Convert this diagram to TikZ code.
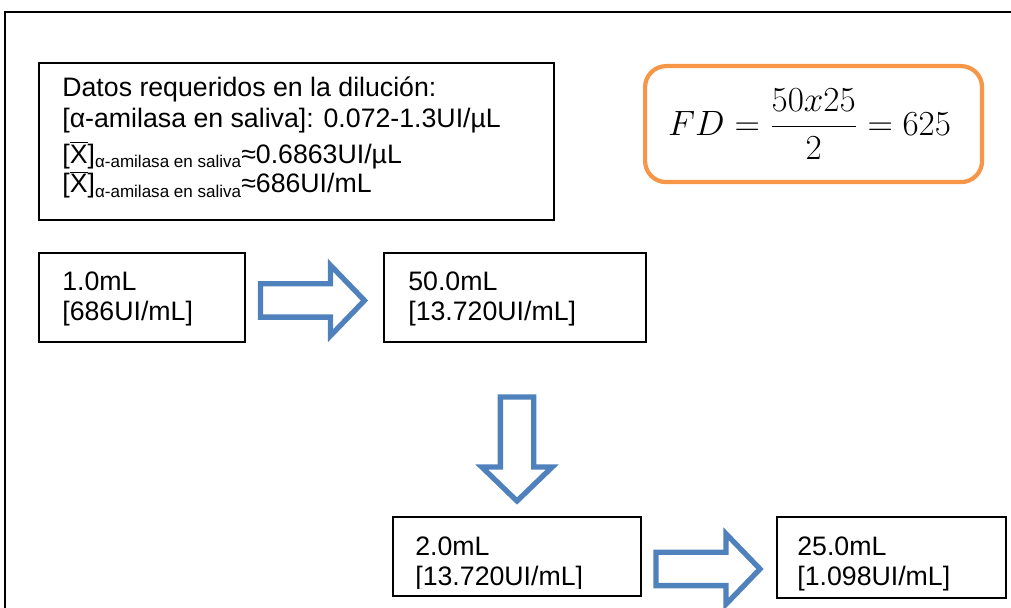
\documentclass[tikz,border=0pt]{standalone}
\usepackage{fontspec}
\setmainfont{Liberation Sans}
\usetikzlibrary{shapes.arrows,calc}
\definecolor{arrowblue}{RGB}{79,129,189}
\definecolor{fdorange}{RGB}{247,150,70}

\newcommand{\xbar}{\ensuremath{\overline{\mbox{X}}}}
\newcommand{\subsal}[1]{\raisebox{-0.3ex}{\fontsize{9.7}{12}\selectfont #1}}

\begin{document}
\begin{tikzpicture}[x=0.02cm,y=-0.02cm,
  databox/.style={draw=black, line width=1.1pt, inner sep=0pt, outer sep=0pt, anchor=north west},
  fdbox/.style={draw=fdorange, line width=2.4pt, rounded corners=0.42cm, inner sep=0pt, anchor=north west},
  blockarrow/.style={single arrow, draw=arrowblue, fill=white, line width=3pt,
    minimum height=2.08cm, inner xsep=0pt, inner ysep=0.28cm,
    single arrow head extend=0.37cm,
    single arrow tip angle=92, outer sep=0pt},
  txt/.style={anchor=base west, inner sep=0pt, font=\fontsize{15.2}{17}\selectfont}
]
\useasboundingbox (0,0) rectangle (1011,608);

% page frame
\draw[line width=1.4pt] (5,620) -- (5,12) -- (1020,12);

% data box
\node[databox, minimum width=10.3cm, minimum height=3.14cm] (datos) at (39,63) {};
\node[txt] (d1) at (62,97) {Datos requeridos en la dilución:};
\node[txt] (d2) at (62,128) {[α-amilasa en saliva]: 0.072-1.3UI/µL};
\node[txt] (d3) at (62,163) {[\xbar]\subsal{α-amilasa en saliva}≈0.6863UI/µL};
\node[txt] (d4) at (62,193) {[\xbar]\subsal{α-amilasa en saliva}≈686UI/mL};

% dilution factor
\node[fdbox, minimum width=6.74cm, minimum height=2.32cm] (fd) at (643,64) {};
\node[inner sep=0pt, font=\fontsize{20.74}{24}\selectfont] (fdeq) at ($(fd.center)+(-4,0)$)
  {\scalebox{0.965}{$\displaystyle FD=\frac{50x25}{2}=625$}};

% dilution steps
\node[databox, minimum width=4.12cm, minimum height=1.78cm] (b1) at (39,253) {};
\node[txt] (b1a) at (62,290) {1.0mL};
\node[txt] (b1b) at (62,320) {[686UI/mL]};

\node[databox, minimum width=5.24cm, minimum height=1.78cm] (b2) at (384,253) {};
\node[txt] (b2a) at (408,290) {50.0mL};
\node[txt] (b2b) at (408,320) {[13.720UI/mL]};

\node[databox, minimum width=4.96cm, minimum height=1.58cm] (b3) at (393,517) {};
\begin{scope}
  \clip (395,519) rectangle (639,588);
  \node[txt] (b3a) at (415,555) {2.0mL};
  \node[txt] (b3b) at (415,585) {[13.720UI/mL]};
\end{scope}

\node[databox, minimum width=4.58cm, minimum height=1.62cm] (b4) at (777,517) {};
\node[txt] (b4a) at (797,555) {25.0mL};
\node[txt] (b4b) at (797,585) {[1.098UI/mL]};

% transfer arrows
\node[blockarrow] (a1) at ($(b1.east)!0.5!(b2.west)+(-10,3)$) {};
\node[blockarrow, rotate=-90] (a2) at (517,441) {};
\node[blockarrow] (a3) at ($(b3.east)!0.5!(b4.west)+(-9,12)$) {};
\end{tikzpicture}
\end{document}
